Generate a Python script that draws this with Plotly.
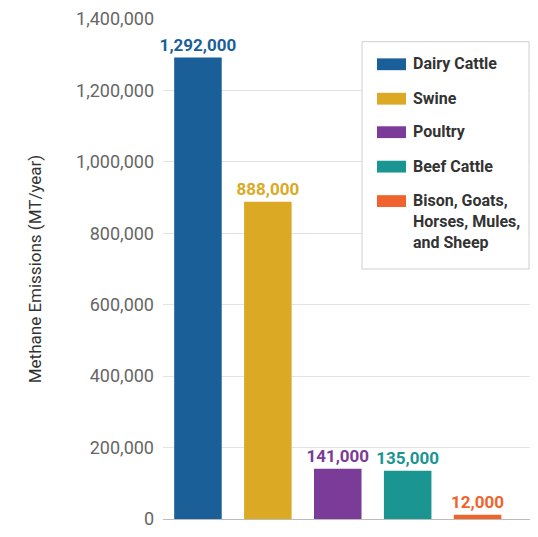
import plotly.graph_objects as go

categories = ["Dairy Cattle", "Swine", "Poultry", "Beef Cattle", "Bison, Goats,<br>Horses, Mules,<br>and Sheep"]
values = [1292000, 888000, 141000, 135000, 12000]
labels = ["1,292,000", "888,000", "141,000", "135,000", "12,000"]
colors = ["#1b5f98", "#dba923", "#7b3b99", "#1b9592", "#f0632d"]
tick_vals = [0, 200000, 400000, 600000, 800000, 1000000, 1200000, 1400000]
tick_text = ["0", "200,000", "400,000", "600,000", "800,000", "1,000,000", "1,200,000", "1,400,000"]

FONT = "Roboto, sans-serif"
W, H = 538, 537
ML, MR, MT, MB = 163, 8, 17, 12
PW, PH = W - ML - MR, H - MT - MB


def px(x):
    return (x - ML) / PW


def py(y):
    return (H - MB - y) / PH


fig = go.Figure()
for i, (c, v, l, col) in enumerate(zip(categories, values, labels, colors)):
    fig.add_trace(go.Bar(
        x=[i], y=[v], name=c, marker=dict(color=col, line=dict(width=0)),
        width=0.68, text=[l], textposition="outside", cliponaxis=False,
        constraintext="none",
        textfont=dict(color=col, size=17, family=FONT, weight="bold"),
        showlegend=False,
    ))

# custom legend (box, wide swatches, labels)
shapes = [dict(type="rect", xref="paper", yref="paper", x0=px(362), x1=px(529),
               y0=py(271), y1=py(40), fillcolor="white",
               line=dict(color="#cfcfcf", width=1), layer="above")]
annotations = []
item_y = [63, 98, 132, 167, 202]
for c, col, yc in zip(categories, colors, item_y):
    shapes.append(dict(type="rect", xref="paper", yref="paper", x0=px(377), x1=px(406),
                       y0=py(yc + 6), y1=py(yc - 6), fillcolor=col,
                       line=dict(width=0), layer="above"))
    annotations.append(dict(xref="paper", yref="paper", x=px(411), y=py(yc - 12),
                            xanchor="left", yanchor="top", align="left",
                            text=c, showarrow=False,
                            font=dict(size=16, color="#333333", family=FONT, weight="bold")))

fig.update_layout(
    width=W, height=H,
    margin=dict(l=ML, r=MR, t=MT, b=MB),
    paper_bgcolor="white", plot_bgcolor="white",
    barmode="overlay",
    font=dict(family=FONT, color="#555555"),
    showlegend=False,
    shapes=shapes, annotations=annotations,
    xaxis=dict(range=[-0.5, 4.75], showticklabels=False, showgrid=False,
               zeroline=False, showline=False, ticks=""),
    yaxis=dict(range=[0, 1400000], tickvals=tick_vals, ticktext=tick_text,
               tickfont=dict(size=18, color="#666666", family=FONT),
               showgrid=True, gridcolor="#e3e3e3", gridwidth=1,
               zeroline=True, zerolinecolor="#bbbbbb", zerolinewidth=1,
               ticks="", ticklabelstandoff=8,
               title=dict(text="Methane Emissions (MT/year)", standoff=30,
                          font=dict(size=17, color="#333333", family=FONT))),
)

fig.write_html("out.html")
